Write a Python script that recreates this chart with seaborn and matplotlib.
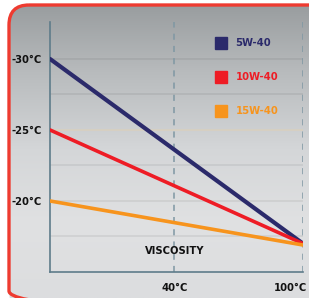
import numpy as np
import pandas as pd
import matplotlib
matplotlib.use("Agg")
import matplotlib.pyplot as plt
import seaborn as sns
from matplotlib.patches import FancyBboxPatch
from matplotlib.lines import Line2D
from matplotlib.colors import LinearSegmentedColormap

# chart data
grades = ["5W-40", "10W-40", "15W-40"]
temps = [-18, 100]                      # left edge of chart, 100°C
start_vals = [-30, -25, -20]            # value at the left edge
end_vals = [-17.0, -17.0, -16.9]        # value at 100°C
colors = ["#2b2a6b", "#ee1c25", "#f7941d"]
ytick_vals = [-30, -25, -20]
ytick_labels = ["-30°C", "-25°C", "-20°C"]
xtick_vals = [40, 100]
xtick_labels = ["40°C", "100°C"]
grid_vals = [-30, -27.5, -25, -22.5, -20, -17.5]


def build_frame():
    rows = []
    for g, s, e in zip(grades, start_vals, end_vals):
        rows.append({"grade": g, "temp": temps[0], "value": s})
        rows.append({"grade": g, "temp": temps[1], "value": e})
    return pd.DataFrame(rows)


def main():
    sns.set_style("white")
    plt.rcParams["font.family"] = ["DejaVu Sans"]
    W, H = 309, 298
    fs = 7.2
    fig = plt.figure(figsize=(W / 100, H / 100), dpi=100)
    fig.patch.set_facecolor("white")

    # background layer in pixel coordinates (y from top)
    bg = fig.add_axes([0, 0, 1, 1], zorder=0)
    bg.set_axis_off()
    cmap = LinearSegmentedColormap.from_list(
        "bg", ["#979b9d", "#b9bcbe", "#d4d6d8", "#e0e1e2", "#dcdddf"])
    grad = np.linspace(0, 1, 256).reshape(-1, 1)
    im = bg.imshow(grad, aspect="auto", cmap=cmap, extent=[0, W, H, 0])
    bg.set_xlim(0, W)
    bg.set_ylim(H, 0)
    box = dict(boxstyle="round,pad=0,rounding_size=20")
    clip = FancyBboxPatch((9, 5), 325, 306, facecolor="none", edgecolor="none", **box)
    bg.add_patch(clip)
    im.set_clip_path(clip)
    border = FancyBboxPatch((9, 5), 325, 306, facecolor="none", edgecolor="#ee3b30",
                            linewidth=2.4, zorder=5, **box)
    bg.add_patch(border)

    ax = fig.add_axes([50 / W, 1 - 272 / H, 253 / W, 250 / H], zorder=2)
    ax.patch.set_alpha(0)

    for gv in grid_vals:
        c = "#d8cfc0" if gv == -25 else (0, 0, 0, 0.07)
        ax.axhline(gv, color=c, linewidth=1.2, zorder=0)
    for xv in xtick_vals:
        ax.axvline(xv, color="#7f97a3", linewidth=1.1, linestyle=(0, (4, 4)), zorder=1)

    df = build_frame()
    sns.lineplot(data=df, x="temp", y="value", hue="grade", hue_order=grades,
                 palette=colors, linewidth=2.6, legend=False, ax=ax, zorder=3)
    ax.lines[-3].set_linewidth(3.0)

    ax.set_xlim(-18, 100)
    ax.set_ylim(-15, -32.6)
    ax.set_xlabel("")
    ax.set_ylabel("")
    for side in ["top", "right"]:
        ax.spines[side].set_visible(False)
    for side in ["left", "bottom"]:
        ax.spines[side].set_color("#5e7c8a")
        ax.spines[side].set_linewidth(1.2)

    ax.set_yticks(ytick_vals)
    ax.set_yticklabels(ytick_labels, fontsize=fs, fontweight="bold", color="#111111")
    ax.set_xticks(xtick_vals)
    ax.set_xticklabels([xtick_labels[0], ""], fontsize=fs, fontweight="bold",
                       color="#111111")
    ax.tick_params(axis="both", length=0)
    ax.tick_params(axis="y", pad=6)
    ax.tick_params(axis="x", pad=8)
    ax.text(1.016, -0.064, xtick_labels[1], transform=ax.transAxes, ha="right",
            va="center", fontsize=fs, fontweight="bold", color="#111111")

    ax.text(40, -16.5, "VISCOSITY", ha="center", va="center", fontsize=fs,
            fontweight="bold", color="#111111")

    handles = [Line2D([], [], marker="s", linestyle="none", markersize=8,
                      markerfacecolor=c, markeredgecolor=c) for c in colors]
    leg = ax.legend(handles, grades, loc="upper left", bbox_to_anchor=(0.622, 0.97),
                    frameon=False, handlelength=1.0, handletextpad=0.9,
                    labelspacing=2.4, prop={"size": fs, "weight": "bold"})
    for t, c in zip(leg.get_texts(), colors):
        t.set_color(c)

    fig.savefig("out.png", dpi=100)
    plt.close(fig)


if __name__ == "__main__":
    main()
